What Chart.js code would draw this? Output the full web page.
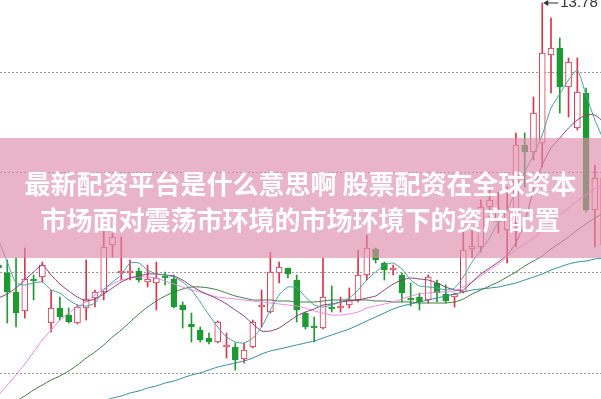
<!DOCTYPE html>
<html>
<head>
<meta charset="utf-8">
<script src="https://cdn.jsdelivr.net/npm/chart.js@4/dist/chart.umd.min.js"></script>
<style>
    body { margin: 0; background: #fff; overflow: hidden; }
    #wrap { position: relative; width: 601px; height: 399px; }
    #banner {
        position: absolute; left: 0; top: 138px; width: 601px; height: 120px;
        box-sizing: border-box; padding-top: 27px;
        background: rgba(222, 140, 170, 0.65);
        color: #fff; text-align: center;
        font-family: "Noto Sans CJK SC", sans-serif; font-weight: 700;
        font-size: 26px; line-height: 36px; white-space: nowrap;
    }
</style>
</head>
<body>
<div id="wrap">
    <canvas id="kline" width="601" height="399"></canvas>
    <div id="banner">
        <div>最新配资平台是什么意思啊 股票配资在全球资本</div>
        <div>市场面对震荡市环境的市场环境下的资产配置</div>
    </div>
</div>
<script>
// K线数据
const opens = [8.54, 8.38, 8.00, 7.62, 8.26, 8.30, 7.38, 7.68, 7.54, 7.38,
    7.68, 7.88, 8.00, 8.94, 8.38, 8.38, 8.42, 8.20, 8.18, 8.32,
    8.26, 7.74, 7.36, 7.24, 7.08, 7.00, 6.90, 6.90, 6.66, 6.90,
    7.70, 7.60, 8.38, 8.48, 8.24, 7.58, 7.32, 7.28, 7.70, 7.68,
    7.74, 7.84, 8.34, 8.86, 8.58, 8.44, 8.34, 7.88, 7.90, 7.84,
    8.18, 7.96, 7.90, 8.00, 8.86, 8.90, 9.70, 9.40, 9.24, 9.58,
    10.94, 10.80, 10.98, 12.74, 12.88, 12.10, 11.28, 11.98, 9.64, 8.94];
const closes = [8.48, 8.00, 7.58, 8.26, 8.22, 8.54, 7.68, 7.50, 7.40, 7.70,
    7.86, 8.00, 8.90, 9.10, 8.42, 8.42, 8.24, 8.26, 8.28, 8.28,
    7.70, 7.64, 7.30, 7.04, 7.00, 7.40, 6.94, 6.64, 6.84, 7.40,
    7.74, 8.40, 8.50, 8.36, 7.64, 7.30, 7.28, 7.90, 7.66, 7.72,
    7.84, 8.34, 8.88, 8.64, 8.44, 8.48, 7.98, 7.84, 7.80, 8.30,
    7.98, 7.82, 7.96, 8.84, 8.92, 9.70, 9.84, 9.64, 9.64, 10.94,
    10.80, 11.58, 12.78, 12.88, 12.10, 12.60, 12.00, 9.64, 10.28, 10.28];
const highs = [8.60, 8.64, 8.68, 8.88, 8.34, 8.60, 8.04, 7.90, 7.68, 7.74,
    8.64, 8.04, 9.24, 9.18, 9.10, 8.64, 8.48, 8.54, 8.60, 8.40,
    8.34, 7.80, 7.58, 7.30, 7.18, 7.42, 7.18, 6.98, 6.98, 7.44,
    8.04, 8.80, 8.60, 8.48, 8.34, 7.60, 7.50, 8.68, 8.12, 7.90,
    8.08, 8.84, 9.14, 8.88, 8.60, 8.54, 8.38, 8.18, 7.98, 8.34,
    8.24, 8.14, 7.98, 9.30, 9.28, 9.84, 10.10, 10.00, 10.10, 11.18,
    11.18, 11.90, 13.78, 13.48, 13.08, 12.68, 12.68, 12.08, 10.54, 10.44];
const lows = [8.40, 7.38, 7.30, 7.48, 7.84, 8.20, 7.20, 7.44, 7.38, 7.36,
    7.44, 7.70, 7.84, 8.70, 8.24, 8.24, 8.20, 8.10, 7.64, 8.14,
    7.68, 7.28, 7.00, 7.00, 6.96, 6.98, 6.68, 6.44, 6.58, 6.88,
    7.30, 7.58, 8.18, 8.28, 7.40, 7.26, 7.00, 7.26, 7.60, 7.60,
    7.68, 7.80, 8.24, 8.58, 8.24, 8.34, 7.80, 7.72, 7.64, 7.78,
    7.80, 7.78, 7.70, 7.98, 8.68, 8.80, 9.50, 9.18, 8.58, 8.90,
    10.10, 10.64, 10.50, 11.98, 11.58, 11.50, 11.24, 9.60, 8.90, 8.84];

// 均线
const ma5 = [9.04, 8.60, 8.18, 8.14, 8.18, 8.20, 8.04, 7.98, 7.84, 7.74,
    7.72, 7.78, 8.04, 8.20, 8.34, 8.58, 8.58, 8.44, 8.36, 8.34,
    8.30, 8.20, 8.04, 7.80, 7.54, 7.30, 7.10, 7.00, 6.98, 7.08,
    7.30, 7.64, 7.94, 8.10, 8.08, 7.90, 7.74, 7.70, 7.74, 7.80,
    7.88, 8.04, 8.24, 8.40, 8.54, 8.58, 8.46, 8.24, 8.12, 8.10,
    8.08, 8.04, 8.08, 8.30, 8.60, 8.84, 9.08, 9.40, 9.64, 10.04,
    10.40, 10.74, 11.14, 11.68, 11.96, 12.24, 12.44, 11.94, 11.44, 11.04];
const ma10 = [7.88, 7.96, 8.08, 8.24, 8.40, 8.54, 8.34, 8.16, 8.02, 7.90,
    7.82, 7.86, 7.96, 8.08, 8.20, 8.28, 8.32, 8.36, 8.36, 8.34,
    8.32, 8.24, 8.12, 8.02, 7.94, 7.86, 7.76, 7.64, 7.52, 7.36,
    7.22, 7.22, 7.28, 7.40, 7.52, 7.60, 7.66, 7.74, 7.76, 7.80,
    7.82, 7.84, 7.88, 7.92, 8.04, 8.16, 8.24, 8.28, 8.26, 8.24,
    8.18, 8.10, 8.04, 8.04, 8.20, 8.36, 8.48, 8.60, 8.74, 8.98,
    9.40, 10.04, 10.54, 10.88, 11.08, 11.28, 11.44, 11.54, 11.54, 11.40];
const ma20 = [5.94, 6.14, 6.34, 6.56, 6.80, 7.04, 7.24, 7.44, 7.58, 7.70,
    7.80, 7.94, 8.06, 8.16, 8.24, 8.28, 8.30, 8.30, 8.28, 8.22,
    8.16, 8.10, 8.04, 8.00, 7.94, 7.90, 7.88, 7.86, 7.84, 7.82,
    7.80, 7.78, 7.76, 7.74, 7.72, 7.68, 7.62, 7.58, 7.54, 7.54,
    7.56, 7.60, 7.68, 7.72, 7.76, 7.80, 7.86, 7.92, 7.96, 7.98,
    8.00, 8.00, 8.02, 8.10, 8.20, 8.32, 8.44, 8.56, 8.70, 8.84,
    8.96, 9.08, 9.24, 9.40, 9.54, 9.68, 9.82, 9.94, 10.06, 10.16];
const ma30 = [5.58, 5.68, 5.82, 5.92, 6.04, 6.14, 6.24, 6.32, 6.42, 6.54,
    6.68, 6.80, 6.94, 7.10, 7.24, 7.40, 7.56, 7.70, 7.82, 7.92,
    8.00, 8.06, 8.10, 8.10, 8.08, 8.04, 7.98, 7.92, 7.88, 7.84,
    7.84, 7.84, 7.82, 7.82, 7.80, 7.80, 7.80, 7.82, 7.84, 7.84,
    7.84, 7.84, 7.84, 7.82, 7.82, 7.80, 7.80, 7.80, 7.78, 7.78,
    7.78, 7.78, 7.80, 7.86, 7.96, 8.04, 8.12, 8.20, 8.30, 8.40,
    8.52, 8.62, 8.72, 8.86, 8.98, 9.10, 9.24, 9.36, 9.48, 9.58];
const ma60 = [5.20, 5.26, 5.30, 5.36, 5.40, 5.46, 5.50, 5.56, 5.62, 5.66,
    5.72, 5.76, 5.82, 5.88, 5.92, 5.98, 6.02, 6.08, 6.12, 6.18,
    6.22, 6.28, 6.34, 6.38, 6.44, 6.50, 6.54, 6.58, 6.62, 6.68,
    6.76, 6.82, 6.86, 6.90, 6.94, 6.98, 7.02, 7.08, 7.14, 7.20,
    7.26, 7.34, 7.42, 7.50, 7.58, 7.66, 7.72, 7.76, 7.80, 7.84,
    7.88, 7.92, 7.96, 8.00, 8.04, 8.06, 8.08, 8.10, 8.14, 8.18,
    8.24, 8.30, 8.36, 8.44, 8.50, 8.56, 8.60, 8.62, 8.66, 8.68];

// 网格线位置
const gridValues = [12.38, 10.38, 8.38, 6.38];

const UP_COLOR = '#d8344c';
const DOWN_COLOR = '#1f9a32';

function isUp(i) {
    return closes[i] >= opens[i];
}

function toPoints(arr) {
    return arr.map((v, i) => ({ x: i, y: v }));
}

function maLine(label, arr, color) {
    return {
        type: 'line',
        label: label,
        data: toPoints(arr),
        borderColor: color,
        borderWidth: 1,
        pointRadius: 0,
        tension: 0.2,
        order: 0
    };
}

// 最高价标注
const peakLabel = {
    id: 'peakLabel',
    afterDatasetsDraw(chart) {
        const { ctx, scales: { x, y } } = chart;
        const top = Math.max(...highs);
        const i = highs.indexOf(top);
        const px = x.getPixelForValue(i);
        const py = y.getPixelForValue(top);
        ctx.save();
        ctx.strokeStyle = '#333';
        ctx.fillStyle = '#333';
        ctx.lineWidth = 1;
        ctx.beginPath();
        ctx.moveTo(px + 3, py);
        ctx.lineTo(px + 16, py);
        ctx.stroke();
        ctx.beginPath();
        ctx.moveTo(px + 1, py);
        ctx.lineTo(px + 6, py - 3);
        ctx.lineTo(px + 6, py + 3);
        ctx.closePath();
        ctx.fill();
        ctx.font = '15px "Liberation Sans", Arial, sans-serif';
        ctx.textBaseline = 'middle';
        ctx.fillText(top.toFixed(2), px + 18, py);
        ctx.restore();
    }
};

new Chart(document.getElementById('kline'), {
    type: 'bar',
    data: {
        datasets: [
            maLine('MA5', ma5, '#4b9ea2'),
            maLine('MA10', ma10, '#8a3d78'),
            maLine('MA20', ma20, '#e48ae4'),
            maLine('MA30', ma30, '#3f7a3f'),
            maLine('MA60', ma60, '#2f8b9c'),
            {
                label: 'body',
                data: closes.map((c, i) => ({ x: i, y: [opens[i], c] })),
                backgroundColor: ctx => isUp(ctx.dataIndex) ? '#ffffff' : DOWN_COLOR,
                borderColor: ctx => isUp(ctx.dataIndex) ? UP_COLOR : DOWN_COLOR,
                borderWidth: 1,
                borderSkipped: false,
                barThickness: 6,
                grouped: false,
                order: 1
            },
            {
                label: 'wick',
                data: highs.map((h, i) => ({ x: i, y: [lows[i], h] })),
                backgroundColor: ctx => isUp(ctx.dataIndex) ? UP_COLOR : DOWN_COLOR,
                borderWidth: 0,
                barThickness: 1,
                grouped: false,
                order: 2
            }
        ]
    },
    options: {
        responsive: false,
        devicePixelRatio: 1,
        animation: false,
        layout: { padding: 0 },
        plugins: {
            legend: { display: false },
            tooltip: { enabled: false }
        },
        scales: {
            x: {
                type: 'linear',
                min: 0.171,
                max: 68.7,
                offset: false,
                display: false
            },
            y: {
                min: 5.86,
                max: 13.84,
                position: 'left',
                afterFit(scale) { scale.width = 0; },
                afterBuildTicks(scale) {
                    scale.ticks = gridValues.map(v => ({ value: v }));
                },
                ticks: { display: false },
                grid: { color: '#9a9a9a', drawTicks: false },
                border: { display: false, dash: [2, 2] }
            }
        }
    },
    plugins: [peakLabel]
});
</script>
</body>
</html>
